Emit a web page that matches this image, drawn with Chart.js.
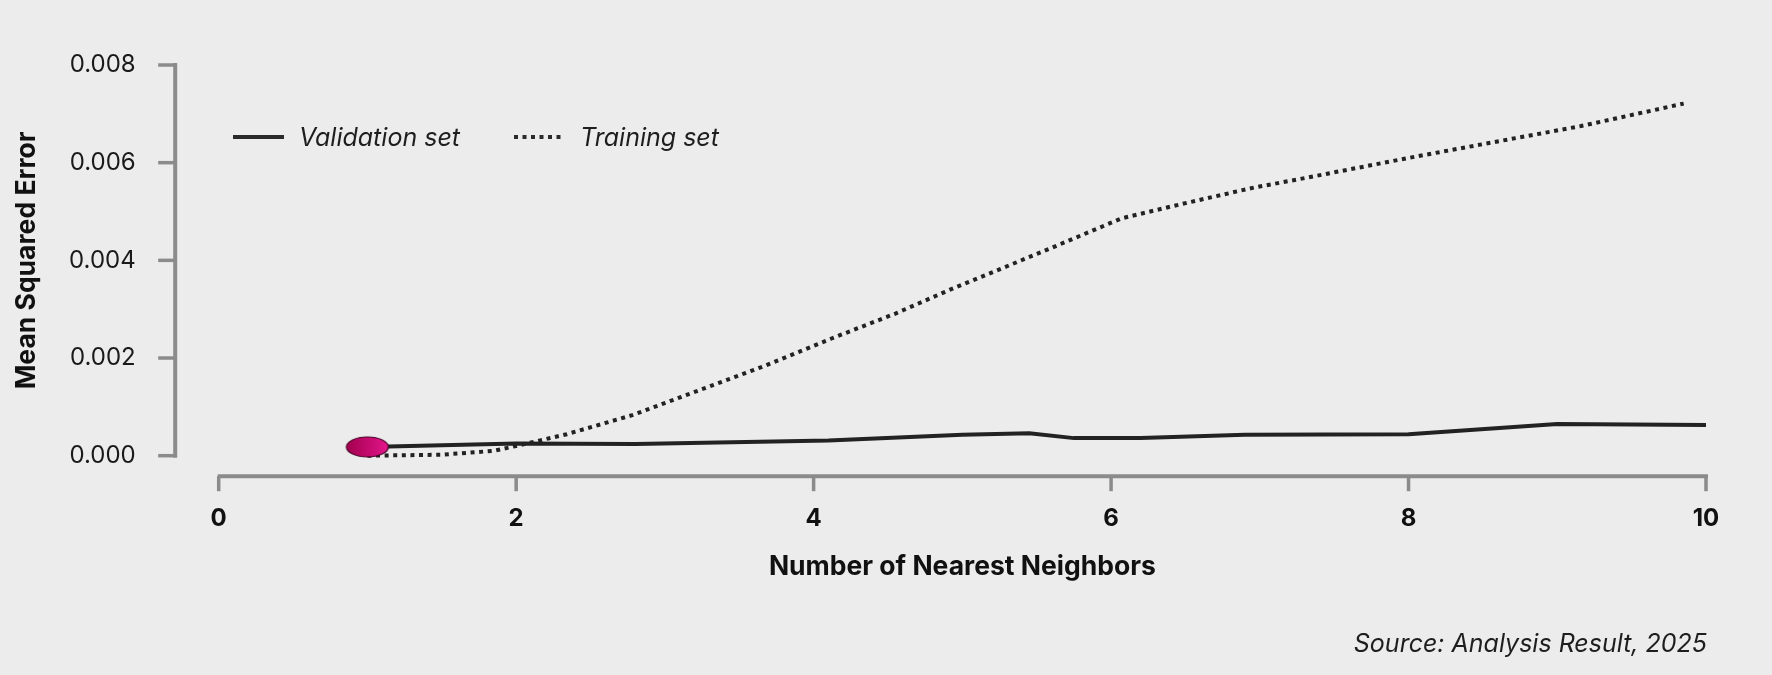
<!DOCTYPE html>
<html>
<head>
<meta charset="utf-8">
<script src="https://cdn.jsdelivr.net/npm/chart.js@4.4.1/dist/chart.umd.min.js"></script>
<style>
  html, body { margin: 0; padding: 0; background: #ececec; }
  #wrap { position: relative; width: 1772px; height: 675px; background: #ececec; font-family: Inter, Lato, sans-serif; }
  #c { position: absolute; left: 0; top: 0; }
  .leg { position: absolute; top: 122px; height: 30px; display: flex; align-items: center; font-style: italic; font-size: 25px; color: #1e1e1e; line-height: 30px; }
  .leg svg { margin-right: 15px; }
  #source { position: absolute; right: 65px; top: 628px; line-height: 30px; font-style: italic; font-size: 25px; color: #1e1e1e; }
</style>
</head>
<body>
<div id="wrap">
  <canvas id="c" width="1772" height="675"></canvas>
  <div class="leg" style="left:233px"><svg width="51" height="6"><line x1="0" y1="3" x2="51" y2="3" stroke="#2a2a2a" stroke-width="4"/></svg><span>Validation set</span></div>
  <div class="leg" style="left:514px"><svg width="51" height="6"><line x1="0" y1="3" x2="51" y2="3" stroke="#2a2a2a" stroke-width="4" stroke-dasharray="4 4.5"/></svg><span>Training set</span></div>
  <div id="source">Source: Analysis Result, 2025</div>
</div>
<script>
// ---- data ----
const xTitle = "Number of Nearest Neighbors";
const yTitle = "Mean Squared Error";
const seriesNames = ["Validation set", "Training set"];

const validationK   = [1, 2, 2.8, 4.1, 5.0, 5.45, 5.75, 6.2, 6.9, 8.0, 9.0, 10];
const validationMSE = [0.00018, 0.00025, 0.00024, 0.00031, 0.00043, 0.00046, 0.00036, 0.00036, 0.00043, 0.00044, 0.00065, 0.00063];

const trainingK   = [1, 1.5, 1.85, 2.0, 2.34, 2.78, 3.23, 3.68, 4.12, 4.55, 4.91, 5.58, 6.07, 6.47, 6.96, 7.26, 8.04, 9.16, 9.85];
const trainingMSE = [0.0, 0.00002, 0.0001, 0.0002, 0.00044, 0.00083, 0.00134, 0.00185, 0.0024, 0.00291, 0.00339, 0.00423, 0.00486, 0.00515, 0.00549, 0.00566, 0.00612, 0.00675, 0.00721];

const xTicks = [0, 2, 4, 6, 8, 10];
const yTicks = [0, 0.002, 0.004, 0.006, 0.008];

// ---- ellipse marker ----
const marker = document.createElement('canvas');
marker.width = 46; marker.height = 24;
(function(){
  const m = marker.getContext('2d');
  const g = m.createLinearGradient(2, 0, 44, 0);
  g.addColorStop(0, '#a3004e');
  g.addColorStop(1, '#e3168c');
  m.beginPath();
  m.ellipse(23, 12, 21, 10, 0, 0, Math.PI * 2);
  m.fillStyle = g; m.fill();
  m.lineWidth = 1.2; m.strokeStyle = '#4a0028'; m.stroke();
})();

const pts = (xs, ys) => xs.map((x, i) => ({x: x, y: ys[i]}));

const AXIS_GRAY = '#8b8b8b';
const axesPlugin = {
  id: 'offsetAxes',
  beforeDatasetsDraw(chart) {
    const {ctx, chartArea} = chart;
    const xs = chart.scales.x, ys = chart.scales.y;
    ctx.save();
    ctx.strokeStyle = AXIS_GRAY;
    ctx.lineWidth = 4;
    ctx.lineCap = 'butt';
    const yAxisX = chartArea.left - 43.5;
    ctx.beginPath();
    ctx.moveTo(yAxisX, ys.getPixelForValue(yTicks[yTicks.length - 1]) - 2);
    ctx.lineTo(yAxisX, ys.getPixelForValue(yTicks[0]) + 2);
    ctx.stroke();
    ctx.lineWidth = 3.5;
    yTicks.forEach(v => {
      const py = ys.getPixelForValue(v);
      ctx.beginPath();
      ctx.moveTo(yAxisX - 17, py);
      ctx.lineTo(yAxisX, py);
      ctx.stroke();
    });
    const xAxisY = chartArea.bottom + 20.5;
    ctx.lineWidth = 4;
    ctx.beginPath();
    ctx.moveTo(xs.getPixelForValue(xTicks[0]) - 1, xAxisY);
    ctx.lineTo(xs.getPixelForValue(xTicks[xTicks.length - 1]) + 2, xAxisY);
    ctx.stroke();
    ctx.lineWidth = 3.5;
    xTicks.forEach(v => {
      const px = xs.getPixelForValue(v);
      ctx.beginPath();
      ctx.moveTo(px, xAxisY);
      ctx.lineTo(px, xAxisY + 15);
      ctx.stroke();
    });
    ctx.restore();
  }
};

new Chart(document.getElementById('c'), {
  type: 'line',
  data: {
    datasets: [
      {
        label: seriesNames[0],
        data: pts(validationK, validationMSE),
        borderColor: '#222222',
        borderWidth: 4,
        tension: 0,
        clip: false,
        pointStyle: ctx => ctx.dataIndex === 0 ? marker : 'circle',
        pointRadius: ctx => ctx.dataIndex === 0 ? 10 : 0,
        pointHoverRadius: 0
      },
      {
        label: seriesNames[1],
        data: pts(trainingK, trainingMSE),
        borderColor: '#222222',
        borderWidth: 4,
        borderDash: [4, 4.6],
        borderCapStyle: 'butt',
        tension: 0,
        clip: false,
        pointRadius: 0,
        pointHoverRadius: 0
      }
    ]
  },
  options: {
    responsive: false,
    animation: false,
    devicePixelRatio: 1,
    layout: { padding: { left: 0, right: 66, top: 65, bottom: 0 } },
    plugins: { legend: { display: false }, tooltip: { enabled: false } },
    scales: {
      x: {
        type: 'linear',
        min: xTicks[0], max: xTicks[xTicks.length - 1],
        afterBuildTicks: s => { s.ticks = xTicks.map(v => ({value: v})); },
        afterFit: s => { s.height = 219.3; },
        grid: { display: false, drawTicks: true, tickLength: 46 },
        border: { display: false },
        ticks: {
          padding: 3,
          color: '#111111',
          font: { family: 'Inter', size: 24, weight: 'bold' },
          maxRotation: 0,
          callback: v => String(v)
        },
        title: {
          display: true, text: xTitle, color: '#111111',
          font: { family: 'Inter', size: 26.5, weight: 'bold' },
          padding: { top: 0, bottom: 92 }
        }
      },
      y: {
        type: 'linear',
        min: yTicks[0], max: yTicks[yTicks.length - 1],
        afterBuildTicks: s => { s.ticks = yTicks.map(v => ({value: v})); },
        afterFit: s => { s.width = 218.7; },
        grid: { display: false, drawTicks: true, tickLength: 80 },
        border: { display: false },
        ticks: {
          padding: 3,
          color: '#1a1a1a',
          font: { family: 'Inter', size: 24, weight: 'normal' },
          callback: v => Number(v).toFixed(3)
        },
        title: {
          display: true, text: yTitle, color: '#111111',
          font: { family: 'Inter', size: 26.5, weight: 'bold' },
          padding: { top: 11, bottom: 0 }
        }
      }
    }
  },
  plugins: [axesPlugin]
});
</script>
</body>
</html>
